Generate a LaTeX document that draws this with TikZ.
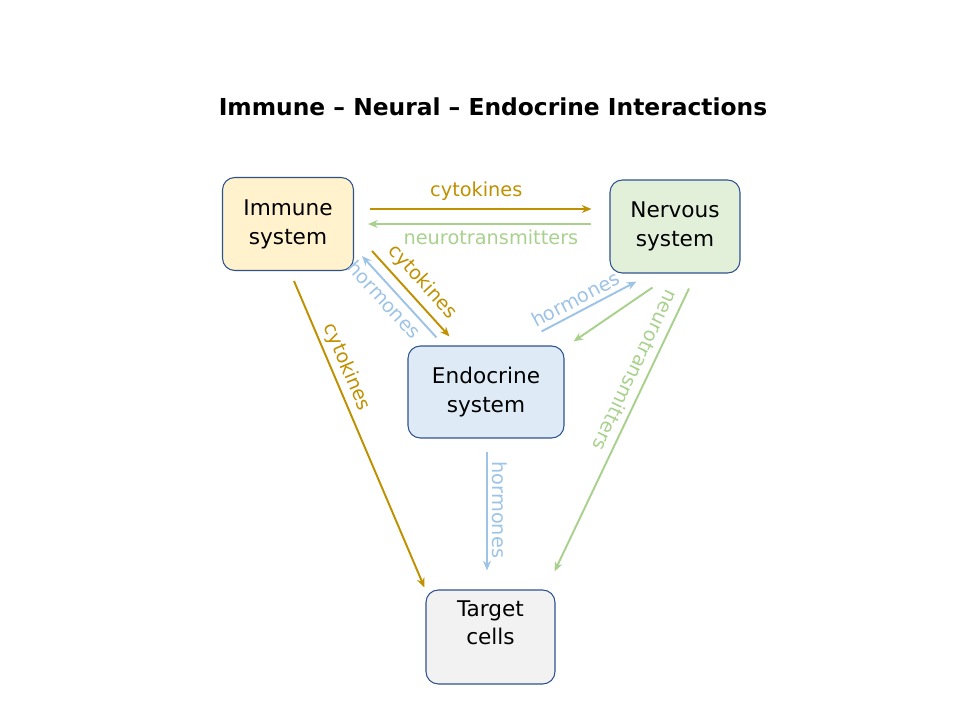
\documentclass[tikz,border=0pt]{standalone}
\usepackage{fontspec}
\setmainfont{DejaVu Sans}
\usepackage{tikz}
\usetikzlibrary{arrows.meta,calc}
\definecolor{cytogold}{RGB}{191,144,0}
\definecolor{neurogreen}{RGB}{169,209,142}
\definecolor{hormblue}{RGB}{157,195,230}
\definecolor{boxedge}{RGB}{47,82,143}
\definecolor{immfill}{RGB}{255,242,204}
\definecolor{nervfill}{RGB}{226,240,217}
\definecolor{endofill}{RGB}{222,235,247}
\definecolor{tgtfill}{RGB}{242,242,242}

\begin{document}
\begin{tikzpicture}[x=0.02cm,y=-0.02cm,
    sysbox/.style={draw=boxedge, line width=0.6pt, rounded corners=7pt,
      align=center, inner sep=0pt, font=\fontsize{12.3}{16.4}\selectfont},
    link/.style={line width=1.1pt, -{Stealth[length=5.5pt,width=4.5pt]}},
    lbl/.style={font=\fontsize{11}{13}\selectfont, inner sep=2.5pt}]
  \useasboundingbox (0,0) rectangle (960,720);
  % title
  \node[font=\bfseries\fontsize{13.3}{16}\selectfont] (title) at (493,107)
    {Immune – Neural – Endocrine Interactions};
  % the four systems
  \node[sysbox, fill=immfill, minimum width=2.62cm, minimum height=1.86cm]
    (imm) at (288,224) {Immune\\system};
  \node[sysbox, fill=nervfill, minimum width=2.6cm, minimum height=1.86cm]
    (nerv) at (675,226.5) {Nervous\\system};
  \node[sysbox, fill=endofill, minimum width=3.12cm, minimum height=1.84cm]
    (endo) at (486,392) {Endocrine\\system};
  \node[sysbox, fill=tgtfill, minimum width=2.58cm, minimum height=1.88cm]
    (tgt) at (490.5,637) {Target\\cells\\\mbox{}};
  % immune <-> nervous
  \draw[link, cytogold] ($(imm.east)+(16,-15)$) -- ($(nerv.west)+(-18,-17.5)$)
    node[lbl, pos=0.48, above=2pt] {cytokines};
  \draw[link, neurogreen] ($(nerv.west)+(-18,-2.5)$) -- ($(imm.east)+(14,0)$)
    node[lbl, pos=0.45, below=0pt] {neurotransmitters};
  % immune <-> endocrine
  \draw[link, cytogold] ($(imm.south east)+(18,-20)$) -- ($(endo.north west)+(42,-9)$)
    node[lbl, pos=0.49, sloped, above=1pt] {cytokines};
  \draw[link, hormblue] ($(endo.north west)+(29,-8)$) -- ($(imm.south east)+(8,-15)$)
    node[lbl, pos=0.57, sloped, below] {hormones};
  % endocrine <-> nervous
  \draw[link, hormblue] ($(endo.north east)+(-23,-14)$) -- ($(nerv.south west)+(27,8)$)
    node[lbl, pos=0.42, sloped, above] {hormones};
  \draw[link, neurogreen] ($(nerv.south west)+(43,14)$) -- ($(endo.north east)+(9,-4)$);
  % to the target cells
  \draw[link, cytogold] ($(imm.south)+(6,10)$) -- ($(tgt.north west)+(-1,-2)$)
    node[lbl, pos=0.3, sloped, above] {cytokines};
  \draw[link, hormblue] ($(endo.south)+(1,13)$) -- ($(tgt.north)+(-3.5,-19)$)
    node[lbl, pos=0.49, sloped, above] {hormones};
  \draw[link, neurogreen] ($(nerv.south)+(14,15)$) -- ($(tgt.north east)+(-1,-18)$)
    node[lbl, pos=0.31, sloped, allow upside down, below] {neurotransmitters};
\end{tikzpicture}
\end{document}
